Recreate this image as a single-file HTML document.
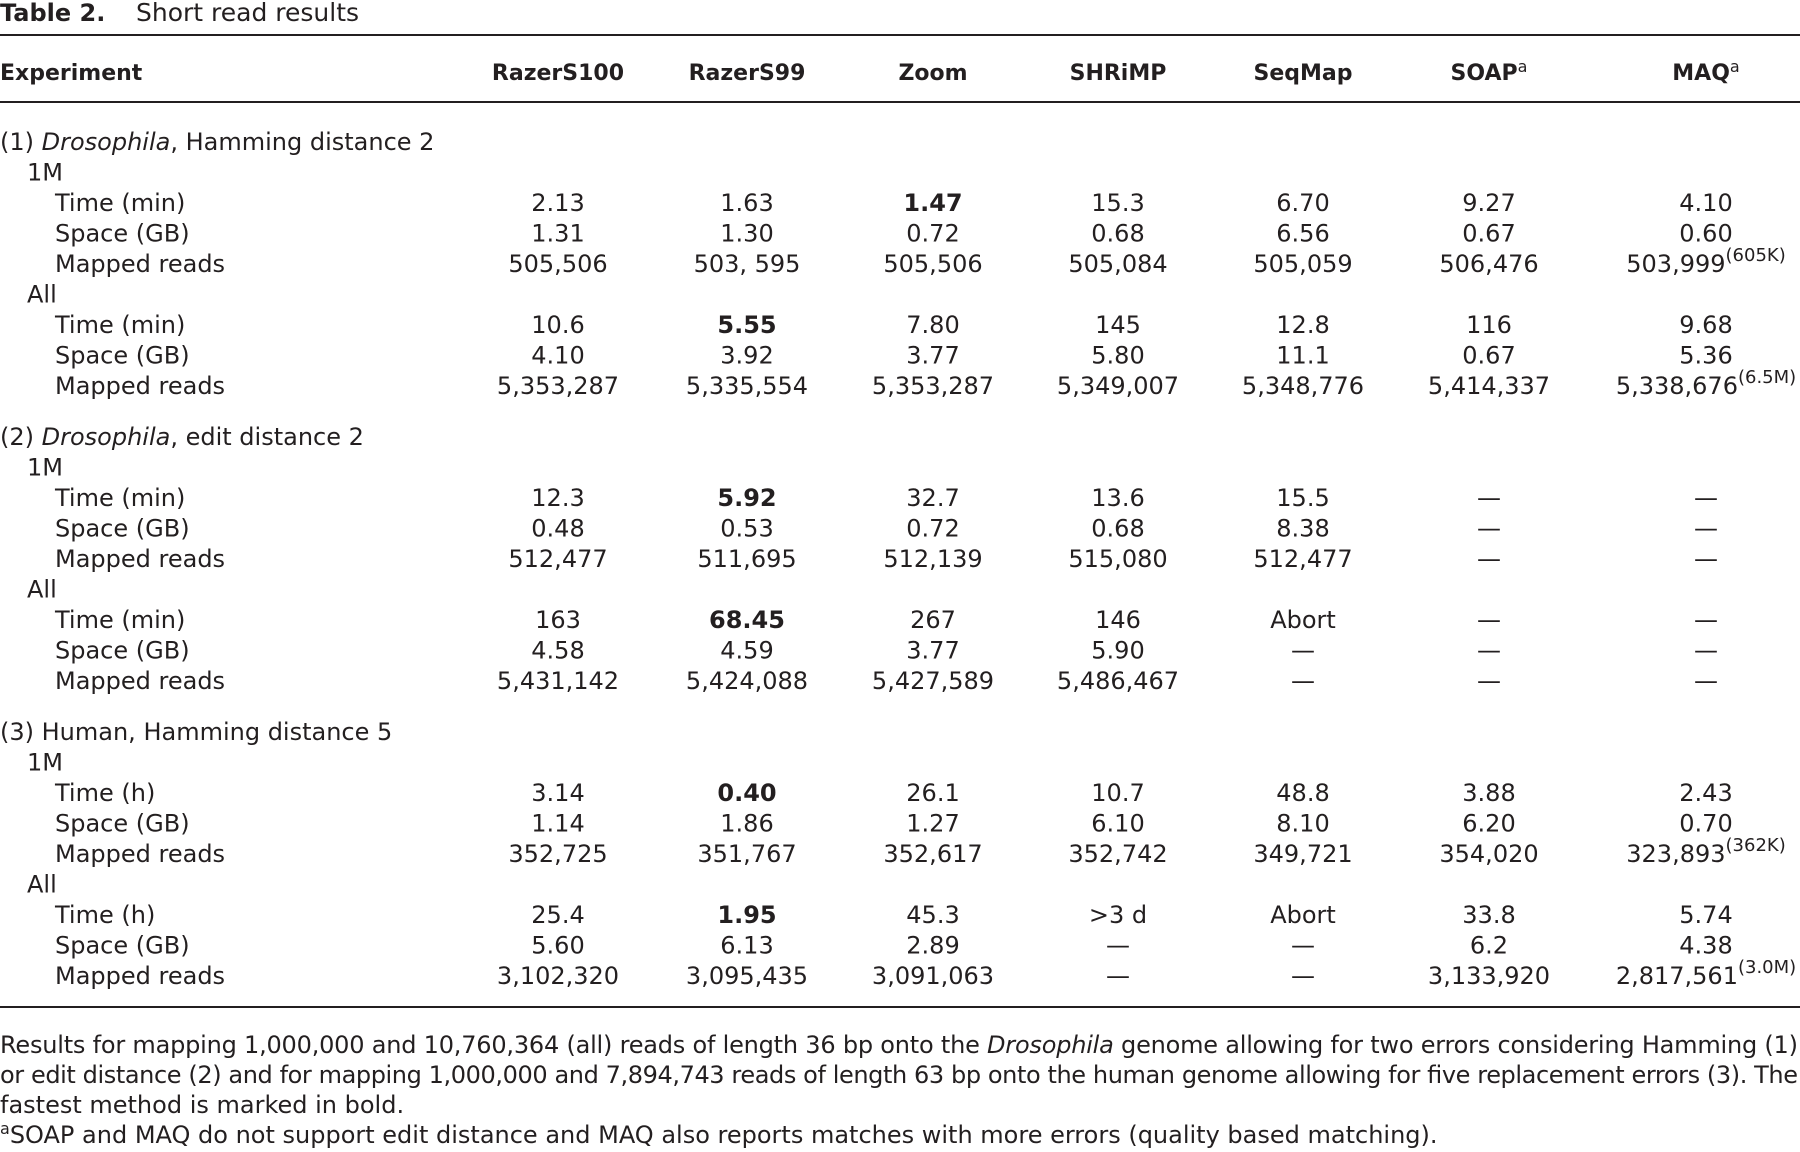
<!DOCTYPE html>
<html>
<head>
<meta charset="utf-8">
<style>
html,body{margin:0;padding:0;background:#fff;}
body{width:1800px;height:1152px;overflow:hidden;}
svg{display:block;}
text{font-family:"DejaVu Sans","Liberation Sans",sans-serif;fill:#231f20;}
.h{font-size:22px;font-weight:bold;}
.b{font-size:24px;}
.c{text-anchor:middle;}
.bd{font-weight:bold;}
</style>
</head>
<body>
<svg width="1800" height="1152" viewBox="0 0 1800 1152" xmlns="http://www.w3.org/2000/svg">
<!-- Title -->
<text x="0" y="21" font-size="24" font-weight="bold">Table 2.</text>
<text x="136" y="21" font-size="25">Short read results</text>

<!-- rules -->
<rect x="0" y="34" width="1800" height="2" fill="#231f20"/>
<rect x="0" y="101" width="1800" height="2" fill="#231f20"/>
<rect x="0" y="1006" width="1800" height="2" fill="#231f20"/>

<!-- header -->
<text class="h" x="0" y="80">Experiment</text>
<text class="h c" x="558" y="80">RazerS100</text>
<text class="h c" x="747" y="80">RazerS99</text>
<text class="h c" x="933" y="80">Zoom</text>
<text class="h c" x="1118" y="80">SHRiMP</text>
<text class="h c" x="1303" y="80">SeqMap</text>
<text class="h c" x="1489" y="80">SOAP<tspan font-size="16" font-weight="normal" dy="-8">a</tspan></text>
<text class="h c" x="1706" y="80">MAQ<tspan font-size="16" font-weight="normal" dy="-8">a</tspan></text>

<!-- Group 1 -->
<text class="b" x="0" y="150">(1) <tspan font-style="italic">Drosophila</tspan>, Hamming distance 2</text>
<text class="b" x="27" y="180.5">1M</text>
<text class="b" x="55" y="211">Time (min)</text>
<text class="b" x="55" y="241.5">Space (GB)</text>
<text class="b" x="55" y="272">Mapped reads</text>
<text class="b" x="27" y="302.5">All</text>
<text class="b" x="55" y="333">Time (min)</text>
<text class="b" x="55" y="363.5">Space (GB)</text>
<text class="b" x="55" y="394">Mapped reads</text>

<text class="b c" x="558" y="211">2.13</text>
<text class="b c" x="747" y="211">1.63</text>
<text class="b c bd" x="933" y="211">1.47</text>
<text class="b c" x="1118" y="211">15.3</text>
<text class="b c" x="1303" y="211">6.70</text>
<text class="b c" x="1489" y="211">9.27</text>
<text class="b c" x="1706" y="211">4.10</text>

<text class="b c" x="558" y="241.5">1.31</text>
<text class="b c" x="747" y="241.5">1.30</text>
<text class="b c" x="933" y="241.5">0.72</text>
<text class="b c" x="1118" y="241.5">0.68</text>
<text class="b c" x="1303" y="241.5">6.56</text>
<text class="b c" x="1489" y="241.5">0.67</text>
<text class="b c" x="1706" y="241.5">0.60</text>

<text class="b c" x="558" y="272">505,506</text>
<text class="b c" x="747" y="272">503, 595</text>
<text class="b c" x="933" y="272">505,506</text>
<text class="b c" x="1118" y="272">505,084</text>
<text class="b c" x="1303" y="272">505,059</text>
<text class="b c" x="1489" y="272">506,476</text>
<text class="b c" x="1706" y="272">503,999<tspan font-size="18" dy="-11">(605K)</tspan></text>

<text class="b c" x="558" y="333">10.6</text>
<text class="b c bd" x="747" y="333">5.55</text>
<text class="b c" x="933" y="333">7.80</text>
<text class="b c" x="1118" y="333">145</text>
<text class="b c" x="1303" y="333">12.8</text>
<text class="b c" x="1489" y="333">116</text>
<text class="b c" x="1706" y="333">9.68</text>

<text class="b c" x="558" y="363.5">4.10</text>
<text class="b c" x="747" y="363.5">3.92</text>
<text class="b c" x="933" y="363.5">3.77</text>
<text class="b c" x="1118" y="363.5">5.80</text>
<text class="b c" x="1303" y="363.5">11.1</text>
<text class="b c" x="1489" y="363.5">0.67</text>
<text class="b c" x="1706" y="363.5">5.36</text>

<text class="b c" x="558" y="394">5,353,287</text>
<text class="b c" x="747" y="394">5,335,554</text>
<text class="b c" x="933" y="394">5,353,287</text>
<text class="b c" x="1118" y="394">5,349,007</text>
<text class="b c" x="1303" y="394">5,348,776</text>
<text class="b c" x="1489" y="394">5,414,337</text>
<text class="b c" x="1706" y="394">5,338,676<tspan font-size="18" dy="-11">(6.5M)</tspan></text>

<!-- Group 2 -->
<text class="b" x="0" y="445">(2) <tspan font-style="italic">Drosophila</tspan>, edit distance 2</text>
<text class="b" x="27" y="475.5">1M</text>
<text class="b" x="55" y="506">Time (min)</text>
<text class="b" x="55" y="536.5">Space (GB)</text>
<text class="b" x="55" y="567">Mapped reads</text>
<text class="b" x="27" y="597.5">All</text>
<text class="b" x="55" y="628">Time (min)</text>
<text class="b" x="55" y="658.5">Space (GB)</text>
<text class="b" x="55" y="689">Mapped reads</text>

<text class="b c" x="558" y="506">12.3</text>
<text class="b c bd" x="747" y="506">5.92</text>
<text class="b c" x="933" y="506">32.7</text>
<text class="b c" x="1118" y="506">13.6</text>
<text class="b c" x="1303" y="506">15.5</text>
<text class="b c" x="1489" y="506">—</text>
<text class="b c" x="1706" y="506">—</text>

<text class="b c" x="558" y="536.5">0.48</text>
<text class="b c" x="747" y="536.5">0.53</text>
<text class="b c" x="933" y="536.5">0.72</text>
<text class="b c" x="1118" y="536.5">0.68</text>
<text class="b c" x="1303" y="536.5">8.38</text>
<text class="b c" x="1489" y="536.5">—</text>
<text class="b c" x="1706" y="536.5">—</text>

<text class="b c" x="558" y="567">512,477</text>
<text class="b c" x="747" y="567">511,695</text>
<text class="b c" x="933" y="567">512,139</text>
<text class="b c" x="1118" y="567">515,080</text>
<text class="b c" x="1303" y="567">512,477</text>
<text class="b c" x="1489" y="567">—</text>
<text class="b c" x="1706" y="567">—</text>

<text class="b c" x="558" y="628">163</text>
<text class="b c bd" x="747" y="628">68.45</text>
<text class="b c" x="933" y="628">267</text>
<text class="b c" x="1118" y="628">146</text>
<text class="b c" x="1303" y="628">Abort</text>
<text class="b c" x="1489" y="628">—</text>
<text class="b c" x="1706" y="628">—</text>

<text class="b c" x="558" y="658.5">4.58</text>
<text class="b c" x="747" y="658.5">4.59</text>
<text class="b c" x="933" y="658.5">3.77</text>
<text class="b c" x="1118" y="658.5">5.90</text>
<text class="b c" x="1303" y="658.5">—</text>
<text class="b c" x="1489" y="658.5">—</text>
<text class="b c" x="1706" y="658.5">—</text>

<text class="b c" x="558" y="689">5,431,142</text>
<text class="b c" x="747" y="689">5,424,088</text>
<text class="b c" x="933" y="689">5,427,589</text>
<text class="b c" x="1118" y="689">5,486,467</text>
<text class="b c" x="1303" y="689">—</text>
<text class="b c" x="1489" y="689">—</text>
<text class="b c" x="1706" y="689">—</text>

<!-- Group 3 -->
<text class="b" x="0" y="740">(3) Human, Hamming distance 5</text>
<text class="b" x="27" y="770.5">1M</text>
<text class="b" x="55" y="801">Time (h)</text>
<text class="b" x="55" y="831.5">Space (GB)</text>
<text class="b" x="55" y="862">Mapped reads</text>
<text class="b" x="27" y="892.5">All</text>
<text class="b" x="55" y="923">Time (h)</text>
<text class="b" x="55" y="953.5">Space (GB)</text>
<text class="b" x="55" y="984">Mapped reads</text>

<text class="b c" x="558" y="801">3.14</text>
<text class="b c bd" x="747" y="801">0.40</text>
<text class="b c" x="933" y="801">26.1</text>
<text class="b c" x="1118" y="801">10.7</text>
<text class="b c" x="1303" y="801">48.8</text>
<text class="b c" x="1489" y="801">3.88</text>
<text class="b c" x="1706" y="801">2.43</text>

<text class="b c" x="558" y="831.5">1.14</text>
<text class="b c" x="747" y="831.5">1.86</text>
<text class="b c" x="933" y="831.5">1.27</text>
<text class="b c" x="1118" y="831.5">6.10</text>
<text class="b c" x="1303" y="831.5">8.10</text>
<text class="b c" x="1489" y="831.5">6.20</text>
<text class="b c" x="1706" y="831.5">0.70</text>

<text class="b c" x="558" y="862">352,725</text>
<text class="b c" x="747" y="862">351,767</text>
<text class="b c" x="933" y="862">352,617</text>
<text class="b c" x="1118" y="862">352,742</text>
<text class="b c" x="1303" y="862">349,721</text>
<text class="b c" x="1489" y="862">354,020</text>
<text class="b c" x="1706" y="862">323,893<tspan font-size="18" dy="-11">(362K)</tspan></text>

<text class="b c" x="558" y="923">25.4</text>
<text class="b c bd" x="747" y="923">1.95</text>
<text class="b c" x="933" y="923">45.3</text>
<text class="b c" x="1118" y="923">&gt;3 d</text>
<text class="b c" x="1303" y="923">Abort</text>
<text class="b c" x="1489" y="923">33.8</text>
<text class="b c" x="1706" y="923">5.74</text>

<text class="b c" x="558" y="953.5">5.60</text>
<text class="b c" x="747" y="953.5">6.13</text>
<text class="b c" x="933" y="953.5">2.89</text>
<text class="b c" x="1118" y="953.5">—</text>
<text class="b c" x="1303" y="953.5">—</text>
<text class="b c" x="1489" y="953.5">6.2</text>
<text class="b c" x="1706" y="953.5">4.38</text>

<text class="b c" x="558" y="984">3,102,320</text>
<text class="b c" x="747" y="984">3,095,435</text>
<text class="b c" x="933" y="984">3,091,063</text>
<text class="b c" x="1118" y="984">—</text>
<text class="b c" x="1303" y="984">—</text>
<text class="b c" x="1489" y="984">3,133,920</text>
<text class="b c" x="1706" y="984">2,817,561<tspan font-size="18" dy="-11">(3.0M)</tspan></text>

<!-- Footnotes -->
<text class="b" x="0" y="1053" textLength="1798" lengthAdjust="spacing">Results for mapping 1,000,000 and 10,760,364 (all) reads of length 36 bp onto the <tspan font-style="italic">Drosophila</tspan> genome allowing for two errors considering Hamming (1)</text>
<text class="b" x="0" y="1083" textLength="1798" lengthAdjust="spacing">or edit distance (2) and for mapping 1,000,000 and 7,894,743 reads of length 63 bp onto the human genome allowing for five replacement errors (3). The</text>
<text class="b" x="0" y="1113">fastest method is marked in bold.</text>
<text class="b" x="0" y="1143"><tspan font-size="16" dy="-9">a</tspan><tspan dy="9">SOAP and MAQ do not support edit distance and MAQ also reports matches with more errors (quality based matching).</tspan></text>
</svg>
</body>
</html>
